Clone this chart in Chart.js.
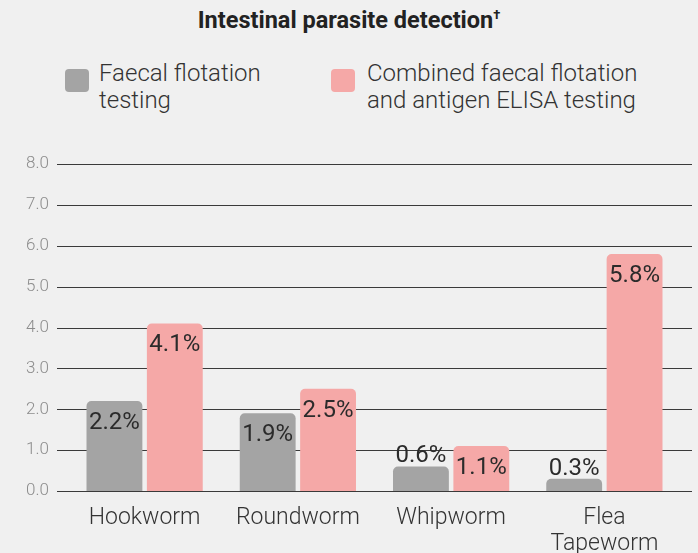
<!DOCTYPE html>
<html>
<head>
<meta charset="utf-8">
<script src="https://cdn.jsdelivr.net/npm/chart.js@4.4.1/dist/chart.umd.min.js"></script>
<style>
  html, body { margin: 0; padding: 0; background: #f0f0f0; }
  #wrap { position: relative; width: 698px; height: 553px; font-family: Roboto, sans-serif; }
  #title { position: absolute; left: 0; width: 698px; top: 6px; text-align: center;
           font-weight: 700; font-size: 23.5px; color: #222; }
  .leg { position: absolute; top: 60px; color: #333; font-size: 24px; font-weight: 300; line-height: 27px; }
  .box { position: absolute; top: 69px; width: 24px; height: 23px; border-radius: 4px; }
  canvas { position: absolute; left: 0; top: 0; }
</style>
</head>
<body>
<div id="wrap">
  <div id="title">Intestinal parasite detection<sup style="font-size:13px">†</sup></div>
  <div class="box" style="left:65px;background:#a4a4a4"></div>
  <div class="leg" style="left:99px">Faecal flotation<br>testing</div>
  <div class="box" style="left:331px;background:#f5a8a7"></div>
  <div class="leg" style="left:367px">Combined faecal flotation<br>and antigen ELISA testing</div>
  <canvas id="barChart" width="698" height="553"></canvas>
</div>
<script>
let categories = ["Hookworm", "Roundworm", "Whipworm", ["Flea", "Tapeworm"]];
let faecalValues = [2.2, 1.9, 0.6, 0.3];
let combinedValues = [4.1, 2.5, 1.1, 5.8];
let seriesLabels = ["Faecal flotation testing", "Combined faecal flotation and antigen ELISA testing"];

// horizontal grid lines running a little past the bars on both sides
let gridPlugin = {
    id: "gridLines",
    beforeDatasetsDraw(chart) {
        let ctx = chart.ctx;
        let y = chart.scales.y;
        ctx.save();
        ctx.strokeStyle = "#3a3a3a";
        ctx.lineWidth = 1.2;
        y.ticks.forEach(function (t) {
            let py = Math.round(y.getPixelForValue(t.value)) + 0.5;
            ctx.beginPath();
            ctx.moveTo(57, py);
            ctx.lineTo(692, py);
            ctx.stroke();
        });
        ctx.restore();
    }
};

// value labels: inside the top of the bar, or above it when the bar is short
let valuePlugin = {
    id: "valueLabels",
    afterDatasetsDraw(chart) {
        let ctx = chart.ctx;
        ctx.save();
        ctx.font = "400 24px Roboto";
        ctx.fillStyle = "#2b2b2b";
        ctx.textAlign = "center";
        ctx.textBaseline = "alphabetic";
        chart.data.datasets.forEach(function (ds, i) {
            chart.getDatasetMeta(i).data.forEach(function (bar, j) {
                let text = ds.data[j].toFixed(1) + "%";
                let h = bar.base - bar.y;
                if (h > 35) {
                    ctx.fillText(text, bar.x, bar.y + 28);
                } else {
                    ctx.fillText(text, bar.x, bar.y - 4);
                }
            });
        });
        ctx.restore();
    }
};

new Chart(document.getElementById("barChart"), {
    type: "bar",
    data: {
        labels: categories,
        datasets: [
            {
                label: seriesLabels[0],
                data: faecalValues,
                backgroundColor: "#a4a4a4",
                borderRadius: 5,
                categoryPercentage: 0.788,
                barPercentage: 0.925
            },
            {
                label: seriesLabels[1],
                data: combinedValues,
                backgroundColor: "#f5a8a7",
                borderRadius: 5,
                categoryPercentage: 0.788,
                barPercentage: 0.925
            }
        ]
    },
    options: {
        responsive: false,
        animation: false,
        layout: { padding: { top: 164, right: 17, left: 0, bottom: 0 } },
        plugins: {
            legend: { display: false },
            tooltip: { enabled: false }
        },
        scales: {
            x: {
                grid: { display: false, drawTicks: false },
                border: { display: false },
                ticks: {
                    color: "#333",
                    padding: 15,
                    font: { family: "Roboto", size: 23, weight: 300, lineHeight: 1.1 }
                },
                afterFit: function (s) { s.height = 62; }
            },
            y: {
                min: 0,
                max: 8,
                grid: { display: false, drawTicks: false },
                border: { display: false },
                ticks: {
                    stepSize: 1,
                    padding: 19,
                    color: "#8c8c8c",
                    font: { family: "Roboto", size: 17, weight: 300 },
                    callback: function (v) { return v.toFixed(1); }
                },
                afterFit: function (s) { s.width = 68; }
            }
        }
    },
    plugins: [gridPlugin, valuePlugin]
});
</script>
</body>
</html>
